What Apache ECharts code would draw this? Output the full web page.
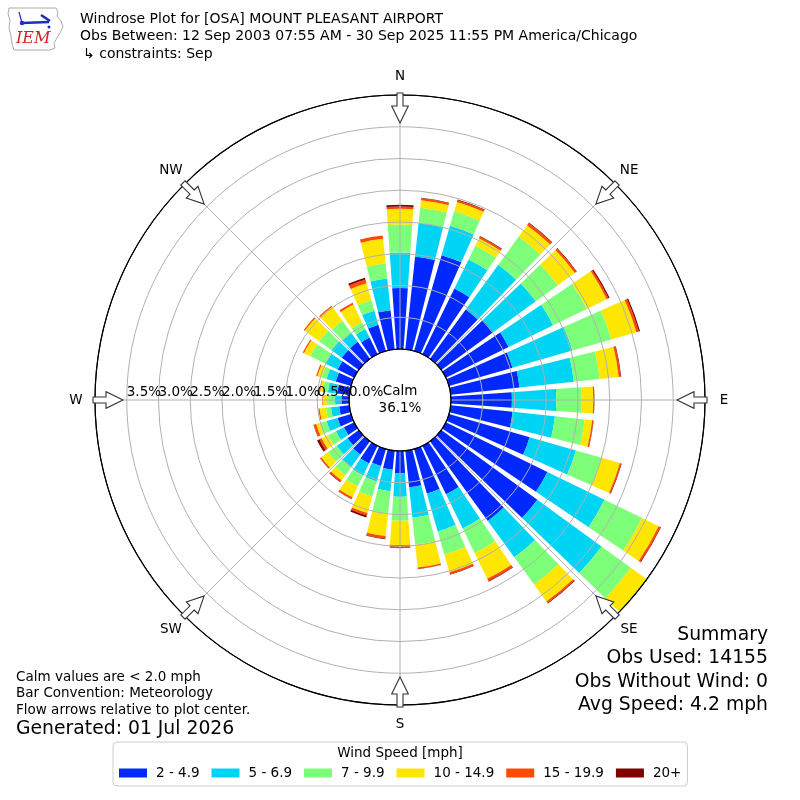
<!DOCTYPE html>
<html>
<head>
<meta charset="utf-8">
<script src="https://cdn.jsdelivr.net/npm/echarts@6/dist/echarts.min.js"></script>
<style>html,body{margin:0;padding:0;background:#fff}#c{width:800px;height:800px}</style>
</head>
<body>
<div id="c"></div>
<script>
// ---------------- data ----------------
const directions = [0,10,20,30,40,50,60,70,80,90,100,110,120,130,140,150,160,170,180,190,200,210,220,230,240,250,260,270,280,290,300,310,320,330,340,350];
const speedBins = ['2 - 4.9','5 - 6.9','7 - 9.9','10 - 14.9','15 - 19.9','20+'];
const binColors = ['#0028ff','#00d4f5','#7dff7a','#ffe600','#ff4a00','#800000'];
// percent frequency per direction, one list per speed bin
const spd2to5   = [0.96,1.47,1.57,1.15,0.96,1.01,1.10,1.04,1.09,0.96,0.98,1.32,1.78,1.87,1.55,0.85,0.73,0.58,0.35,0.30,0.28,0.31,0.26,0.22,0.18,0.22,0.16,0.12,0.19,0.25,0.29,0.33,0.33,0.29,0.43,0.62];
const spd5to7   = [0.56,0.53,0.48,0.51,0.87,0.83,0.78,0.98,0.86,0.70,0.67,0.76,1.00,1.25,0.71,0.60,0.62,0.48,0.37,0.34,0.25,0.21,0.24,0.21,0.14,0.18,0.13,0.10,0.15,0.15,0.21,0.20,0.17,0.15,0.23,0.50];
const spd7to10  = [0.44,0.24,0.24,0.24,0.55,0.43,0.59,0.64,0.41,0.40,0.47,0.42,0.66,0.57,0.53,0.43,0.38,0.43,0.38,0.36,0.25,0.19,0.16,0.17,0.14,0.11,0.08,0.11,0.08,0.08,0.27,0.24,0.24,0.12,0.17,0.24];
const spd10to15 = [0.25,0.12,0.15,0.13,0.22,0.33,0.35,0.41,0.30,0.18,0.12,0.30,0.29,0.31,0.33,0.45,0.29,0.36,0.38,0.35,0.27,0.19,0.10,0.13,0.11,0.06,0.10,0.08,0.04,0.07,0.11,0.28,0.27,0.31,0.28,0.39];
const spd15to20 = [0.035,0.03,0.03,0.03,0.04,0.03,0.03,0.04,0.03,0.015,0.02,0.02,0.03,0.0,0.03,0.04,0.03,0.02,0.04,0.04,0.04,0.03,0.03,0.02,0.04,0.04,0.02,0.01,0.01,0.02,0.02,0.02,0.02,0.03,0.06,0.05];
const spd20up   = [0.025,0.01,0.01,0.01,0.01,0.01,0.02,0.02,0.01,0.005,0.005,0.01,0.01,0.0,0.01,0.01,0.01,0.005,0.01,0.01,0.03,0.005,0.01,0.005,0.04,0.005,0,0,0,0,0,0,0,0,0.03,0];
const binValues = [spd2to5, spd5to7, spd7to10, spd10to15, spd15to20, spd20up];
const radiusTicks = [0, 0.5, 1.0, 1.5, 2.0, 2.5, 3.0, 3.5];
const radiusTickLabels = ['0.0%', '0.5%', '1.0%', '1.5%', '2.0%', '2.5%', '3.0%', '3.5%'];
const compassNames = ['N','NE','E','SE','S','SW','W','NW'];
const compassAngles = [0,45,90,135,180,225,270,315];
const calmLabel = ['Calm', '36.1%'];
const titleLines = ['Windrose Plot for [OSA] MOUNT PLEASANT AIRPORT', 'Obs Between: 12 Sep 2003 07:55 AM - 30 Sep 2025 11:55 PM America/Chicago', '\u21B3 constraints: Sep'];
const leftNotes = ['Calm values are < 2.0 mph', 'Bar Convention: Meteorology', 'Flow arrows relative to plot center.'];
const generatedText = 'Generated: 01 Jul 2026';
const summaryLines = ['Summary', 'Obs Used: 14155', 'Obs Without Wind: 0', 'Avg Speed: 4.2 mph'];
const legendTitle = 'Wind Speed [mph]';
const radiusMax = 4;
const radiusStep = 0.5;

// ---------------- layout ----------------
const FONT = '"DejaVu Sans", "Liberation Sans", sans-serif';
const CX = 400, CY = 400, R0 = 51, R1 = 305;

const chart = echarts.init(document.getElementById('c'), null, {renderer: 'canvas', width: 800, height: 800});

function arrowPoly(theta) {
  const t = theta * Math.PI / 180;
  const ux = Math.sin(t), uy = -Math.cos(t), vx = Math.cos(t), vy = Math.sin(t);
  const local = [[R1 + 2, -3], [R1 - 11, -3], [R1 - 11, -8.3], [R1 - 28, 0], [R1 - 11, 8.3], [R1 - 11, 3], [R1 + 2, 3]];
  return local.map(([u, v]) => [CX + u * ux + v * vx, CY + u * uy + v * vy]);
}
function txt(x, y, s, size, align, z) {
  return {type: 'text', z: z || 50, x: x, y: y,
    style: {text: s, font: size + 'px ' + FONT, fill: '#000', align: align, verticalAlign: 'middle', textAlign: align, textVerticalAlign: 'middle'}};
}

const gridColors = [];
for (let v = 0; v <= radiusMax + 1e-9; v += radiusStep) gridColors.push((v === 0 || Math.abs(v - radiusMax) < 1e-9) ? '#000' : '#b0b0b0');

const option = {
  animation: false,
  textStyle: {fontFamily: FONT},
  polar: [
    {center: [CX, CY], radius: [R0, R1]},
    {center: [CX, CY], radius: [R0, R1]}
  ],
  angleAxis: [
    {polarIndex: 0, type: 'category', data: directions.map(String), startAngle: 95, clockwise: true, boundaryGap: true, show: false},
    {polarIndex: 1, type: 'value', min: 0, max: 360, interval: 45, startAngle: 180, clockwise: true, z: 6,
      axisLine: {show: true, lineStyle: {color: '#000', width: 1.2}},
      axisTick: {show: false}, axisLabel: {show: false},
      splitLine: {show: true, lineStyle: {color: '#b0b0b0', width: 1}}}
  ],
  radiusAxis: [
    {polarIndex: 0, type: 'value', min: 0, max: radiusMax, show: false},
    {polarIndex: 1, type: 'value', min: 0, max: radiusMax, interval: radiusStep, z: 5,
      axisLine: {show: false}, axisTick: {show: false}, axisLabel: {show: false},
      splitLine: {show: true, lineStyle: {color: gridColors, width: 1}}}
  ],
  legend: {
    data: speedBins, left: 113, top: 742, orient: 'horizontal', selectedMode: false,
    itemWidth: 28, itemHeight: 9, itemGap: 12, icon: 'rect',
    padding: [24, 6, 6, 6], borderColor: '#cccccc', borderWidth: 1, borderRadius: 4,
    textStyle: {fontSize: 13.5, color: '#000', fontFamily: FONT, padding: [0, 0, 0, 4]}
  },
  series: speedBins.map((name, i) => ({
    type: 'bar', name: name, coordinateSystem: 'polar', polarIndex: 0, stack: 'total',
    barCategoryGap: '20%', data: binValues[i], z: 2, silent: true,
    itemStyle: {color: binColors[i]}
  }))
};
chart.setOption(option);

const graphics = [];
// radius tick labels placed through the polar scale (angle 0 of the grid polar = West)
radiusTicks.forEach((v, i) => {
  const p = chart.convertToPixel({polarIndex: 1}, [v, 0]);
  graphics.push(txt(p[0], p[1] - 8, radiusTickLabels[i], 13.5, 'left', 60));
});
// compass arrows and labels
compassAngles.forEach((a, i) => {
  graphics.push({type: 'polygon', z: 100, shape: {points: arrowPoly(a)}, style: {fill: '#fff', stroke: '#333', lineWidth: 1.1}});
  const t = a * Math.PI / 180, rl = R1 + 19;
  graphics.push(txt(CX + rl * Math.sin(t), CY - rl * Math.cos(t), compassNames[i], 13.5, 'center', 100));
});
calmLabel.forEach((s, i) => graphics.push(txt(CX, CY - 9 + i * 17, s, 13.5, 'center', 100)));
titleLines.forEach((s, i) => graphics.push(txt(i === 2 ? 83 : 80, 19 + i * 17.5, s, 14, 'left')));
leftNotes.forEach((s, i) => graphics.push(txt(16, 677 + i * 16.8, s, 13.5, 'left')));
graphics.push(txt(16, 729, generatedText, 18.8, 'left'));
summaryLines.forEach((s, i) => graphics.push(txt(768, 635 + i * 23.4, s, 18.8, 'right')));
graphics.push(txt(400, 753, legendTitle, 13.5, 'center', 100));
// IEM logo (approximate)
graphics.push({type: 'group', x: 0, y: 0, children: [
  {type: 'polygon', shape: {points: [[9,8],[56,8],[58,12],[57,16],[61,21],[63,27],[60,33],[57,38],[54,43],[55,48],[50,50],[14,50],[12,44],[11,36],[9,28],[10,20],[8,14]]},
    style: {fill: '#fff', stroke: '#aaa', lineWidth: 1}},
  {type: 'polyline', shape: {points: [[22,23],[49,22]]}, style: {stroke: '#1a2fbf', lineWidth: 2.5}},
  {type: 'polyline', shape: {points: [[41,15],[50,21]]}, style: {stroke: '#1a2fbf', lineWidth: 2.5}},
  {type: 'polyline', shape: {points: [[19,12],[22,23]]}, style: {stroke: '#1a2fbf', lineWidth: 1.2}},
  {type: 'circle', shape: {cx: 22, cy: 23, r: 2.2}, style: {fill: '#1a2fbf'}},
  {type: 'circle', shape: {cx: 49, cy: 27, r: 1.5}, style: {fill: '#1a2fbf'}},
  {type: 'text', x: 16, y: 39, style: {text: 'IEM', font: 'italic 16px "DejaVu Serif", serif', fill: '#d42020', align: 'left', verticalAlign: 'middle', textAlign: 'left', textVerticalAlign: 'middle'}}
]});
chart.setOption({graphic: graphics});
</script>
</body>
</html>
